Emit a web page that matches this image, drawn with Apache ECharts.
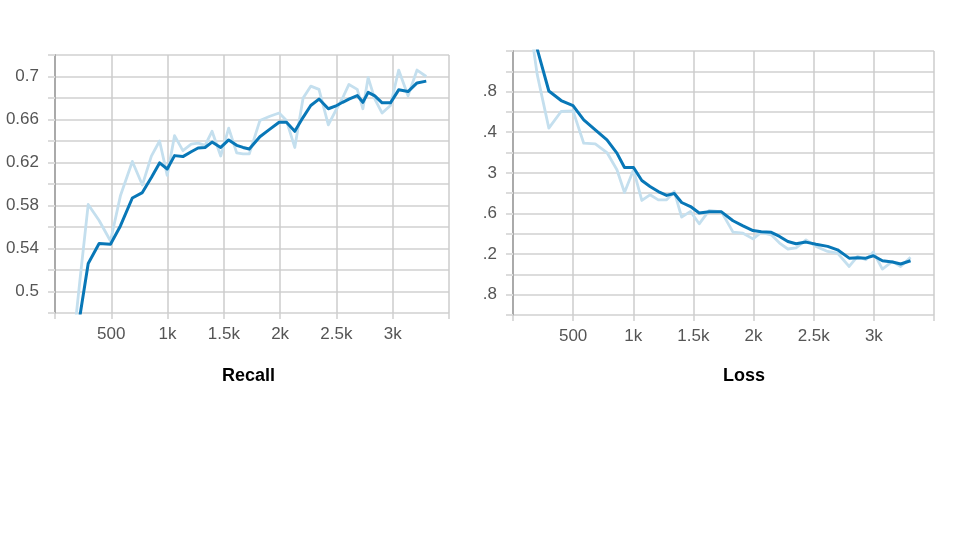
<!DOCTYPE html>
<html>
<head>
<meta charset="utf-8">
<script src="https://cdn.jsdelivr.net/npm/echarts@6/dist/echarts.min.js"></script>
<style>html,body{margin:0;padding:0;background:#fff;}#c{width:960px;height:540px;}</style>
</head>
<body>
<div id="c"></div>
<script>
// ---- Recall chart data ----
const recallSteps = [150, 221, 295, 392, 493, 581, 687, 776, 856, 929, 997, 1062, 1136, 1210, 1271, 1333, 1395, 1472, 1543, 1614, 1670, 1726, 1820, 1909, 1991, 2056, 2130, 2204, 2272, 2345, 2428, 2502, 2555, 2611, 2685, 2735, 2782, 2841, 2906, 2980, 3053, 3136, 3216, 3298];
const recallRaw = [0.44, 0.51, 0.581, 0.566, 0.547, 0.589, 0.621, 0.599, 0.626, 0.640, 0.608, 0.645, 0.631, 0.637, 0.638, 0.636, 0.649, 0.626, 0.652, 0.629, 0.628, 0.628, 0.659, 0.663, 0.666, 0.659, 0.634, 0.680, 0.691, 0.688, 0.655, 0.670, 0.680, 0.6926, 0.688, 0.670, 0.699, 0.679, 0.666, 0.673, 0.706, 0.682, 0.706, 0.700];
const recallSmooth = [0.44, 0.477, 0.526, 0.5447, 0.544, 0.561, 0.587, 0.592, 0.606, 0.6196, 0.614, 0.6264, 0.6255, 0.630, 0.6335, 0.634, 0.639, 0.634, 0.641, 0.636, 0.634, 0.6326, 0.644, 0.651, 0.6575, 0.6575, 0.649, 0.662, 0.673, 0.679, 0.670, 0.673, 0.676, 0.679, 0.6823, 0.676, 0.6852, 0.682, 0.6755, 0.6755, 0.6876, 0.686, 0.694, 0.6957];
const recallTickValues = [0.5, 0.54, 0.58, 0.62, 0.66, 0.7];
const recallTickText = ["0.5", "0.54", "0.58", "0.62", "0.66", "0.7"];

// ---- Loss chart data (values in gridline units) ----
const lossSteps = [125, 201, 298, 400, 499, 588, 684, 781, 864, 927, 1002, 1071, 1139, 1208, 1277, 1341, 1402, 1476, 1548, 1631, 1733, 1829, 1912, 1995, 2064, 2147, 2216, 2285, 2353, 2436, 2519, 2616, 2698, 2795, 2864, 2933, 2996, 3071, 3154, 3223, 3305];
const lossRaw = [15, 11.85, 9.2, 10.02, 10.05, 8.46, 8.43, 8.0, 7.15, 6.03, 7.15, 5.64, 5.92, 5.67, 5.67, 6.08, 4.82, 5.10, 4.49, 5.15, 5.08, 4.08, 4.03, 3.75, 4.07, 3.95, 3.54, 3.25, 3.30, 3.70, 3.38, 3.13, 3.05, 2.39, 2.89, 2.72, 3.10, 2.26, 2.64, 2.39, 2.84];
const lossSmooth = [15, 13.1, 11.03, 10.56, 10.31, 9.61, 9.11, 8.62, 7.97, 7.26, 7.26, 6.62, 6.33, 6.08, 5.89, 5.98, 5.54, 5.34, 5.02, 5.08, 5.08, 4.64, 4.39, 4.16, 4.10, 4.07, 3.87, 3.62, 3.51, 3.59, 3.48, 3.38, 3.21, 2.80, 2.82, 2.80, 2.92, 2.67, 2.61, 2.51, 2.67];
const lossTickValues = [1, 3, 5, 7, 9, 11];
const lossTickText = [".8", ".2", ".6", "3", ".4", ".8"];

// ---- X axis ticks ----
const xTickValues = [500, 1000, 1500, 2000, 2500, 3000];
const xTickText = ["500", "1k", "1.5k", "2k", "2.5k", "3k"];

const titles = ["Recall", "Loss"];

const DARK = '#0877b7';
const LIGHT = '#c4dfee';
const FONT = "'Liberation Sans', Arial, sans-serif";

function pairs(xs, ys) { return xs.map((x, i) => [x, ys[i]]); }
function lookup(vals, texts, v) {
  for (let i = 0; i < vals.length; i++) if (Math.abs(vals[i] - v) < 1e-6) return texts[i];
  return '';
}

function xAxis(gi) {
  return {
    type: 'value', gridIndex: gi, min: 0, max: 3500, interval: 500,
    axisLine: { show: false },
    axisTick: { show: true, length: 6, lineStyle: { color: '#d0d0d0', width: 1.5 } },
    axisLabel: { margin: 13, color: '#555', fontSize: 17, fontFamily: FONT,
      formatter: v => lookup(xTickValues, xTickText, v) },
    splitLine: { show: true, lineStyle: { color: '#cdcdcd', width: 1.5 } }
  };
}
function yAxis(gi, min, max, interval, tv, tt) {
  return {
    type: 'value', gridIndex: gi, min: min, max: max, interval: interval,
    axisLine: { show: true, lineStyle: { color: '#aaaaaa', width: 2 } },
    axisTick: { show: true, length: 7, lineStyle: { color: '#dcdcdc', width: 2 } },
    axisLabel: { margin: 16, color: '#555', fontSize: 17, fontFamily: FONT,
      formatter: v => lookup(tv, tt, v) },
    splitLine: { show: true, lineStyle: { color: '#dcdcdc', width: 2 } }
  };
}
function line(gi, data, color, z, w) {
  return { type: 'line', xAxisIndex: gi, yAxisIndex: gi, data: data, symbol: 'none',
    smooth: false, clip: true, z: z, animation: false,
    lineStyle: { color: color, width: w, join: 'round' } };
}

const chart = echarts.init(document.getElementById('c'), null, { renderer: 'canvas' });
chart.setOption({
  backgroundColor: '#ffffff',
  animation: false,
  grid: [
    { left: 55, right: 511, top: 55, bottom: 227 },
    { left: 513, right: 26, top: 51, bottom: 225 }
  ],
  xAxis: [xAxis(0), xAxis(1)],
  yAxis: [
    yAxis(0, 0.48, 0.72, 0.02, recallTickValues, recallTickText),
    yAxis(1, 0, 13, 1, lossTickValues, lossTickText)
  ],
  series: [
    line(0, pairs(recallSteps, recallRaw), LIGHT, 2, 2.8),
    line(0, pairs(recallSteps, recallSmooth), DARK, 3, 3),
    line(1, pairs(lossSteps, lossRaw), LIGHT, 2, 2.8),
    line(1, pairs(lossSteps, lossSmooth), DARK, 3, 3)
  ],
  graphic: [
    { type: 'text', left: 222, top: 367, style: { text: titles[0], font: 'bold 18px ' + FONT, fill: '#000' } },
    { type: 'text', left: 723, top: 367, style: { text: titles[1], font: 'bold 18px ' + FONT, fill: '#000' } }
  ]
});
</script>
</body>
</html>
